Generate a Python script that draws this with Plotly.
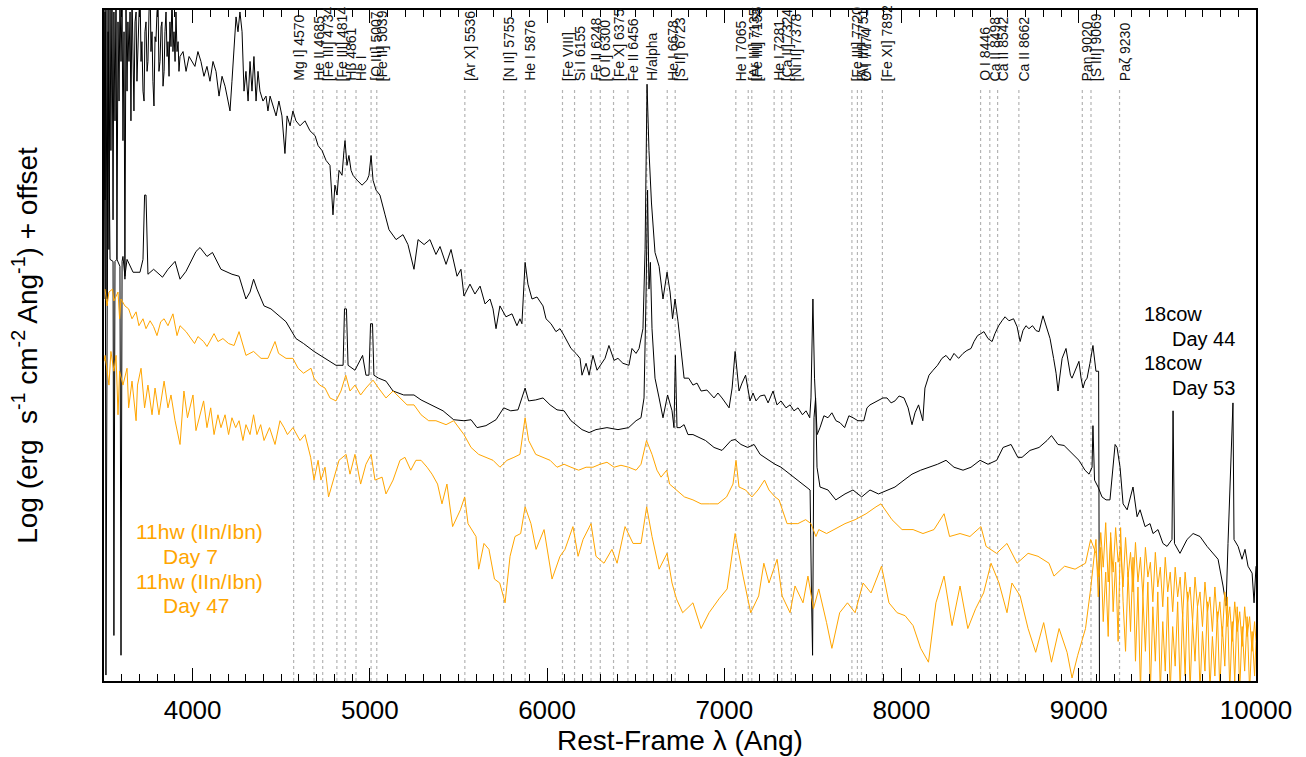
import plotly.graph_objects as go

# ---------------- data ----------------
# 18cow Day 44 (upper black spectrum)
cow44_wl = [3500,3506,3511,3517,3523,3528,3534,3539,3545,3551,3556,3562,3568,3573,3579,3585,3590,3596,3602,3607,
            3613,3618,3624,3630,3635,3641,3647,3652,3658,3664,3669,3675,3681,3686,3692,3697,3703,3709,3714,3720,
            3726,3731,3737,3743,3748,3754,3760,3765,3771,3776,3782,3788,3793,3799,3805,3810,3816,3822,3827,3833,
            3839,3844,3850,3856,3861,3867,3872,3878,3884,3889,3895,3901,3906,3912,3918,3923,3929,
            3946,3963,3980,3997,4013,4030,4047,4064,4081,4098,4115,4132,4149,4166,4183,4200,4211,4222,4234,4245,
            4256,4267,4279,4290,4301,4313,4324,4335,4346,4358,4369,4380,4397,4414,4425,4437,4454,4471,4487,4504,
            4521,4533,4550,4566,4583,4606,4634,4662,4691,4708,4730,4753,4775,4786,4792,4803,4815,4826,4843,4854,
            4860,4871,4882,4894,4905,4928,4956,4984,4995,5007,5018,5035,5057,5086,5108,5148,5187,5215,5249,5272,
            5306,5339,5373,5396,5430,5458,5492,5514,5531,5565,5593,5622,5650,5678,5695,5712,5734,5768,5802,5830,
            5847,5858,5876,5892,5915,5943,5977,5994,6022,6050,6073,6096,6135,6163,6186,6197,6220,6237,6259,6282,
            6299,6327,6349,6378,6400,6428,6462,6479,6502,6519,6541,6553,6564,6575,6589,6609,6632,6654,6677,6694,
            6708,6722,6739,6756,6773,6799,6823,6846,6869,6902,6942,6964,6987,7027,7044,7061,7083,7100,7120,7145,
            7162,7179,7202,7227,7247,7275,7297,7320,7348,7371,7393,7416,7441,7461,7482,7489,7500,7509,7517,7524,
            7540,7562,7585,7607,7630,7653,7679,7703,7726,7754,7787,7805,7822,7845,7870,7895,7918,7941,7963,7986,
            8014,8037,8059,8076,8096,8110,8120,8132,8155,8178,8203,8228,8251,8274,8296,8322,8347,8369,8392,8409,
            8429,8448,8465,8488,8511,8527,8548,8567,8584,8606,8632,8652,8669,8685,8702,8719,8739,8759,8776,8798,
            8821,8838,8858,8872,8883,8894,8906,8928,8939,8953,8962,8977,8990,9001,9013,9024,9035,9047,9063,9080,
            9097,9112,9117]
cow44_flux = [7.16,4.86,7.16,3.86,7.16,4.36,6.86,5.36,7.06,4.66,6.76,5.66,7.06,4.26,6.66,5.86,6.96,6.26,6.81,5.46,
              6.56,4.06,6.86,5.96,6.66,6.26,6.76,5.66,6.96,6.16,5.76,6.66,6.76,6.06,6.36,6.71,7.06,6.26,6.46,5.96,
              5.86,6.56,6.66,6.16,6.26,6.76,7.06,6.36,6.56,6.06,5.81,6.51,6.46,6.76,6.86,6.16,6.26,6.61,6.66,6.01,
              6.16,6.56,6.76,6.31,6.46,6.11,6.66,6.41,6.96,6.36,6.56,6.26,6.76,6.36,6.46,6.16,6.31,
              6.36,6.16,6.31,6.26,6.21,6.36,6.26,6.11,6.21,6.06,6.26,6.16,5.91,6.11,6.01,5.86,5.76,6.06,6.46,6.71,
              6.56,6.76,6.56,5.96,6.16,5.86,6.26,5.96,6.31,5.86,6.16,5.96,5.86,5.91,5.76,5.91,5.81,5.71,5.86,5.71,
              5.33,5.71,5.61,5.76,5.66,5.61,5.66,5.56,5.51,5.41,5.36,5.26,5.21,4.86,4.71,5.01,4.91,5.16,5.11,5.36,
              5.46,5.21,5.31,5.16,5.11,5.06,5.01,5.06,5.11,5.31,5.06,4.96,4.91,4.71,4.56,4.46,4.51,4.41,4.16,4.46,
              4.41,4.46,4.31,4.39,4.21,4.36,4.09,4.16,3.89,4.01,3.91,3.99,3.81,3.86,3.76,3.56,3.79,3.68,3.71,3.59,
              3.66,3.61,4.23,4.01,3.86,3.88,3.79,3.66,3.61,3.53,3.56,3.49,3.36,3.31,3.26,3.09,3.21,3.09,3.29,3.14,
              3.19,3.26,3.39,3.24,3.26,3.21,3.19,3.36,3.31,3.36,3.56,4.36,6.03,5.36,4.83,4.33,4.19,3.86,4.13,3.93,
              3.66,3.86,3.63,3.36,3.06,3.06,2.99,3.01,2.93,2.94,2.86,2.91,2.86,2.76,2.96,3.33,2.93,3.01,3.09,2.83,
              2.91,2.83,2.88,2.89,2.81,2.93,2.79,2.83,2.76,2.79,2.73,2.76,2.69,2.73,2.66,2.86,3.86,3.06,2.66,2.49,
              2.56,2.68,2.66,2.71,2.63,2.61,2.56,2.68,2.66,2.63,2.63,2.76,2.79,2.81,2.83,2.86,2.86,2.81,2.83,2.88,
              2.86,2.76,2.59,2.71,2.79,2.71,2.63,2.96,3.09,3.14,3.19,3.26,3.29,3.24,3.31,3.26,3.31,3.34,3.36,3.43,
              3.49,3.51,3.53,3.46,3.43,3.51,3.59,3.64,3.68,3.64,3.66,3.58,3.43,3.54,3.59,3.56,3.59,3.54,3.53,3.69,
              3.56,3.46,3.26,3.11,2.93,3.11,3.26,3.36,3.24,3.09,3.06,3.13,3.18,3.23,3.06,2.96,3.03,3.06,3.21,3.39,
              3.13,3.13,-0.14]

# 18cow Day 53 (lower black spectrum)
cow53_wl = [3500,3506,3511,3523,3534,3551,3556,3562,3573,3590,3596,3602,3607,3618,3630,3664,3703,3720,3729,3737,
            3748,3780,3799,3830,3861,3901,3929,3963,4019,4042,4081,4112,4160,4222,4262,4301,4324,4344,4363,4403,
            4442,4527,4583,4626,4685,4747,4809,4849,4857,4868,4877,4916,4959,4978,4995,5004,5015,5023,5049,5091,
            5131,5191,5249,5289,5373,5413,5473,5531,5571,5605,5655,5712,5755,5795,5836,5876,5896,5936,5977,6017,
            6056,6096,6135,6197,6237,6276,6338,6400,6460,6502,6530,6547,6558,6567,6575,6583,6592,6609,6632,6654,
            6680,6705,6716,6724,6733,6750,6773,6795,6823,6894,6942,6987,7038,7061,7094,7132,7168,7202,7252,7286,
            7320,7371,7416,7466,7484,7492,7498,7506,7515,7523,7540,7585,7629,7681,7726,7775,7822,7870,7918,7963,
            8014,8059,8108,8155,8203,8251,8296,8347,8392,8443,8488,8537,8573,8618,8656,8680,8725,8776,8821,8846,
            8883,8917,8965,9001,9035,9058,9075,9080,9089,9109,9131,9154,9176,9205,9216,9233,9250,9273,9306,9329,
            9346,9374,9402,9419,9447,9475,9498,9526,9532,9540,9571,9611,9645,9684,9724,9758,9786,9814,9831,9842,
            9859,9870,9876,9899,9921,9938,9955,9978,9989,10000]
cow53_flux = [3.86,6.76,0.06,6.56,4.26,4.24,0.46,4.24,4.26,4.19,0.26,4.24,4.29,4.09,4.26,4.13,4.13,4.26,4.91,4.91,
              4.11,4.16,4.13,4.08,4.16,4.24,4.06,4.14,4.34,4.38,4.29,4.33,4.16,4.11,4.09,3.86,3.93,4.06,3.96,3.79,
              3.76,3.63,3.46,3.41,3.33,3.26,3.19,3.19,3.76,3.76,3.19,3.14,3.29,3.09,3.09,3.61,3.61,3.09,3.06,3.03,
              2.93,2.89,2.89,2.84,2.76,2.73,2.64,2.63,2.64,2.56,2.58,2.64,2.76,2.73,2.74,2.96,2.83,2.84,2.86,2.79,
              2.74,2.73,2.63,2.54,2.51,2.54,2.56,2.54,2.56,2.63,2.66,2.86,3.86,4.96,3.96,4.23,3.56,3.06,2.86,2.66,
              2.89,2.73,2.56,3.29,2.56,2.56,2.59,2.49,2.49,2.43,2.36,2.33,2.43,2.44,2.39,2.36,2.39,2.29,2.23,2.19,
              2.16,2.09,2.03,1.96,1.93,0.86,0.26,2.66,2.86,2.16,1.96,1.93,1.83,1.89,1.93,1.86,1.93,1.89,1.93,1.96,
              2.03,2.09,2.13,2.16,2.19,2.23,2.16,2.13,2.16,2.23,2.19,2.23,2.36,2.39,2.26,2.26,2.33,2.36,2.43,2.48,
              2.39,2.38,2.29,2.23,2.13,2.09,2.16,2.58,2.03,1.96,1.86,1.83,1.83,2.39,2.36,2.16,1.79,1.73,1.96,1.66,
              1.73,1.56,1.59,1.49,1.53,1.39,1.36,1.43,2.73,1.39,1.29,1.43,1.49,1.46,1.36,1.29,1.23,0.96,0.76,1.39,
              2.33,2.81,1.43,1.36,1.23,1.33,1.16,1.09,0.79,1.16]

# 11hw Day 7 (upper orange spectrum)
hw7_wl = [3506,3517,3528,3548,3556,3579,3588,3596,3618,3639,3658,3681,3697,3720,3737,3760,3780,3799,3820,3839,
          3861,3889,3912,3929,3963,3991,4011,4030,4062,4081,4121,4143,4171,4203,4234,4262,4284,4301,4344,4386,
          4425,4465,4485,4527,4566,4595,4626,4668,4685,4717,4747,4775,4809,4837,4864,4888,4916,4948,4978,5018,
          5049,5091,5131,5170,5210,5249,5289,5332,5373,5430,5473,5531,5571,5614,5655,5695,5734,5774,5813,5847,
          5876,5896,5936,5977,6017,6056,6096,6135,6178,6220,6259,6299,6338,6378,6417,6460,6502,6530,6561,6592,
          6620,6643,6675,6691,6727,6775,6823,6869,6918,6964,7013,7049,7066,7083,7120,7156,7190,7227,7252,7286,
          7309,7354,7415,7459,7489,7517,7533,7577,7619,7681,7738,7800,7856,7884,7946,8003,8065,8121,8183,8240,
          8271,8330,8386,8448,8477,8536,8595,8652,8714,8770,8832,8860,8920,8979,9038,9067,9097,
          9110,9124,9138,9152,9166,9180,9194,9208,9222,9236,9250,9264,9278,9292,9306,9320,9334,9348,9362,9376,
          9390,9404,9418,9432,9446,9460,9474,9488,9502,9516,9530,9544,9558,9572,9586,9600,9614,9628,9642,9656,
          9670,9684,9698,9712,9726,9740,9754,9768,9782,9796,9810,9824,9838,9852,9866,9880,9894,9908,9922,9936,
          9950,9964,9978,9992,10000]
hw7_flux = [3.96,3.79,3.93,3.96,3.84,3.93,3.66,3.86,3.79,3.76,3.66,3.73,3.59,3.66,3.56,3.64,3.58,3.49,3.63,3.66,
            3.59,3.71,3.49,3.59,3.53,3.46,3.41,3.48,3.43,3.38,3.51,3.43,3.46,3.41,3.39,3.53,3.39,3.29,3.33,3.26,
            3.26,3.43,3.31,3.26,3.26,3.16,3.11,3.16,3.06,2.99,2.96,2.86,2.83,2.93,3.09,2.93,2.99,2.89,2.96,3.04,
            2.96,2.86,2.93,2.86,2.79,2.79,2.69,2.63,2.63,2.59,2.63,2.49,2.36,2.29,2.26,2.23,2.16,2.23,2.26,2.29,
            2.66,2.43,2.29,2.26,2.23,2.16,2.19,2.16,2.13,2.16,2.16,2.19,2.21,2.16,2.18,2.16,2.13,2.19,2.43,2.29,
            2.13,2.06,2.13,1.99,1.93,1.86,1.83,1.79,1.79,1.79,1.86,1.99,2.23,1.96,1.93,1.86,1.93,2.03,1.93,1.86,
            1.83,1.59,1.59,1.63,1.59,1.46,1.53,1.49,1.53,1.59,1.63,1.69,1.76,1.79,1.63,1.53,1.53,1.49,1.53,1.69,
            1.46,1.49,1.46,1.56,1.36,1.29,1.39,1.19,1.29,1.26,1.19,1.06,1.16,1.13,1.19,1.43,1.29,
            1.05,1.50,1.15,1.60,1.00,1.45,1.10,1.55,1.20,1.35,0.95,1.45,1.05,1.30,0.90,1.40,1.00,1.25,0.85,1.35,
            1.05,1.20,0.80,1.30,0.95,1.15,0.75,1.25,0.90,1.10,0.70,1.15,0.85,1.05,0.65,1.10,0.80,0.95,0.60,1.05,
            0.75,0.90,0.55,1.00,0.70,0.85,0.50,0.95,0.60,0.80,0.45,0.90,0.55,0.75,0.40,0.80,0.50,0.70,0.35,0.75,
            0.45,0.65,0.30,0.60,0.40]

# 11hw Day 47 (lower orange spectrum)
hw47_wl = [3500,3506,3528,3539,3556,3568,3579,3588,3607,3630,3639,3658,3681,3689,3709,3729,3748,3771,3788,3810,
           3839,3861,3878,3901,3929,3951,3971,4002,4019,4042,4062,4081,4102,4121,4143,4160,4183,4203,4222,4243,
           4262,4284,4301,4324,4344,4363,4384,4403,4434,4465,4493,4516,4535,4566,4606,4634,4666,4685,4708,4724,
           4747,4767,4798,4826,4866,4888,4916,4948,4978,5007,5029,5069,5091,5131,5170,5198,5231,5260,5289,5323,
           5351,5382,5407,5435,5467,5511,5535,5554,5599,5614,5644,5672,5703,5733,5763,5791,5819,5851,5876,5909,
           5938,5983,6028,6073,6101,6146,6175,6203,6248,6276,6321,6366,6395,6440,6485,6530,6562,6592,6632,6677,
           6705,6730,6765,6823,6869,6914,6970,7016,7061,7106,7149,7194,7223,7252,7298,7326,7371,7399,7444,7472,
           7503,7533,7577,7607,7651,7695,7738,7783,7828,7887,7929,7975,8020,8065,8108,8152,8194,8240,8285,8330,
           8374,8418,8463,8505,8550,8595,8623,8669,8714,8757,8802,8846,8889,8934,8962,8994,9038,9067,9097,
           9110,9124,9138,9152,9166,9180,9194,9208,9222,9236,9250,9264,9278,9292,9306,9320,9334,9348,9362,9376,
           9390,9404,9418,9432,9446,9460,9474,9488,9502,9516,9530,9544,9558,9572,9586,9600,9614,9628,9642,9656,
           9670,9684,9698,9712,9726,9740,9754,9768,9782,9796,9810,9824,9838,9852,9866,9880,9894,9908,9922,9936,
           9950,9964,9978,9992,10000]
hw47_flux = [3.23,3.29,2.99,3.33,3.13,3.29,2.69,3.13,2.99,3.16,2.76,3.03,2.63,2.99,3.16,2.76,2.99,2.69,2.96,2.69,
             3.03,2.76,2.89,2.63,2.39,2.93,2.66,2.89,2.53,2.69,2.83,2.56,2.76,2.49,2.69,2.56,2.69,2.49,2.66,2.56,
             2.63,2.43,2.59,2.49,2.69,2.49,2.59,2.43,2.56,2.39,2.63,2.56,2.49,2.56,2.43,2.49,2.26,2.03,2.23,2.03,
             2.16,1.86,2.06,2.23,2.29,2.09,2.29,1.99,2.19,2.29,2.03,2.06,1.89,2.03,2.23,2.26,2.13,2.23,2.23,2.16,
             2.09,1.99,1.79,1.99,1.56,1.73,1.86,1.59,1.46,1.13,1.39,1.33,1.03,0.99,0.79,1.26,1.46,1.49,1.76,1.59,
             1.33,1.53,1.03,1.26,1.33,1.56,1.26,1.43,1.59,1.26,1.19,1.33,1.19,1.56,1.39,1.39,1.76,1.46,1.13,1.29,
             0.99,0.83,0.69,0.79,0.53,0.69,0.83,0.93,1.49,1.06,0.69,0.86,1.19,0.99,1.23,0.86,0.69,0.96,0.79,1.06,
             0.73,0.93,0.59,0.33,0.69,0.79,0.69,0.99,0.89,1.16,0.79,0.69,0.66,0.56,0.33,0.19,0.79,1.06,0.56,0.96,
             0.53,0.73,0.89,1.19,0.99,0.69,0.99,0.86,0.53,0.29,0.59,0.19,0.53,0.29,0.03,0.26,0.53,0.93,1.43,
             0.85,1.35,0.60,1.10,0.45,1.50,0.70,1.20,0.40,1.55,0.80,0.30,1.10,0.50,1.25,0.20,0.95,-0.10,0.85,0.30,
             1.00,-0.10,0.75,0.20,0.90,-0.10,0.60,0.10,0.85,-0.10,0.55,0.15,0.80,-0.10,0.70,0.05,0.90,-0.10,0.60,0.20,
             0.75,-0.10,0.50,0.10,0.80,-0.10,0.45,0.05,0.70,-0.10,0.55,0.15,0.85,-0.10,0.60,0.00,0.75,-0.10,0.55,0.10,
             0.65,-0.10,0.50,0.05,0.40]

# Line identifications (rest wavelength, label)
line_wl = [4570, 4685, 4734, 4814, 4861, 4922, 5007, 5039, 5536, 5755, 5876, 6087, 6155, 6248, 6300, 6375,
           6456, 6563, 6678, 6723, 7065, 7135, 7155, 7281, 7324, 7378, 7720, 7751, 7774, 7892, 8446, 8498,
           8542, 8662, 9020, 9069, 9230]
line_labels = ["Mg I] 4570", "He II 4685", "[Fe III] 4734", "[Fe III] 4814", "Hβ 4861", "He I",
               "[O III] 5007", "[Fe II] 5039", "[Ar X] 5536", "[N II] 5755", "He I 5876", "[Fe VIII]",
               "Si I 6155", "Fe II 6248", "[O I] 6300", "[Fe X] 6375", "Fe II 6456", "H/alpha",
               "He I 6678", "[S II] 6723", "He I 7065", "[Ar III] 7135", "[Fe III] 7155", "He I 7281",
               "[Ca II] 7324", "[Ni II] 7378", "[Fe III] 7720", "[Ar III] 7751", "O I 7774", "[Fe XI] 7892",
               "O I 8446", "Ca II 8498", "Ca II 8542", "Ca II 8662", "Paη 9020", "[S III] 9069", "Paζ 9230"]

x_ticks = [4000, 5000, 6000, 7000, 8000, 9000, 10000]

BLACK = "#000000"
ORANGE = "#FFA500"
FONT = "Arial, Liberation Sans, Helvetica, sans-serif"

fig = go.Figure()
for wl, fl, col in [(cow44_wl, cow44_flux, BLACK), (cow53_wl, cow53_flux, BLACK),
                    (hw7_wl, hw7_flux, ORANGE), (hw47_wl, hw47_flux, ORANGE)]:
    fig.add_trace(go.Scatter(x=wl, y=fl, mode="lines", line=dict(color=col, width=1),
                             showlegend=False, hoverinfo="skip"))

# dotted line markers + labels
for wl, lab in zip(line_wl, line_labels):
    fig.add_shape(type="line", xref="x", yref="paper", x0=wl, x1=wl, y0=0, y1=0.885,
                  line=dict(color="#b4b4b4", width=1.2, dash="dot"), layer="below")
    fig.add_annotation(x=wl, y=0.891, xref="x", yref="paper", text=lab, textangle=-90,
                       showarrow=False, xanchor="center", yanchor="bottom", xshift=5,
                       font=dict(family=FONT, size=14, color="#111111"))

# spectrum labels
for txt, xx, yy, col, sz in [("18cow", 9357, 3.71, BLACK, 20), ("Day 44", 9515, 3.46, BLACK, 20),
                             ("18cow", 9357, 3.21, BLACK, 20), ("Day 53", 9515, 2.96, BLACK, 20),
                             ("11hw (IIn/Ibn)", 3670, 1.51, ORANGE, 21), ("Day 7", 3822, 1.26, ORANGE, 21),
                             ("11hw (IIn/Ibn)", 3670, 1.01, ORANGE, 21), ("Day 47", 3822, 0.76, ORANGE, 21)]:
    fig.add_annotation(x=xx, y=yy, text=txt, showarrow=False, xanchor="left", yanchor="middle",
                       font=dict(family=FONT, size=sz, color=col))

fig.update_layout(
    width=1306, height=757,
    margin=dict(l=104, r=50, t=8, b=71),
    paper_bgcolor="white", plot_bgcolor="white",
    font=dict(family=FONT, color="black"),
    xaxis=dict(range=[3500, 10000], tickvals=x_ticks, ticktext=[str(v) for v in x_ticks],
               ticks="inside", ticklen=13, tickwidth=1.2, tickcolor="black",
               minor=dict(dtick=100, ticks="inside", ticklen=7, tickwidth=1, tickcolor="black"),
               showline=True, linecolor="black", linewidth=2, mirror="ticks",
               showgrid=False, zeroline=False, ticklabelstandoff=5,
               tickfont=dict(size=26, family=FONT, color="black"),
               title=dict(text="Rest-Frame λ (Ang)", font=dict(size=28, family=FONT, color="black"),
                          standoff=4)),
    yaxis=dict(range=[0, 6.78], showticklabels=False, ticks="", showline=True, linecolor="black",
               linewidth=2, mirror=True, showgrid=False, zeroline=False,
               title=dict(text="Log (erg  s<sup>-1</sup> cm<sup>-2</sup> Ang<sup>-1</sup>) + offset",
                          font=dict(size=28, family=FONT, color="black"), standoff=56)),
)

fig.write_html("out.html")
